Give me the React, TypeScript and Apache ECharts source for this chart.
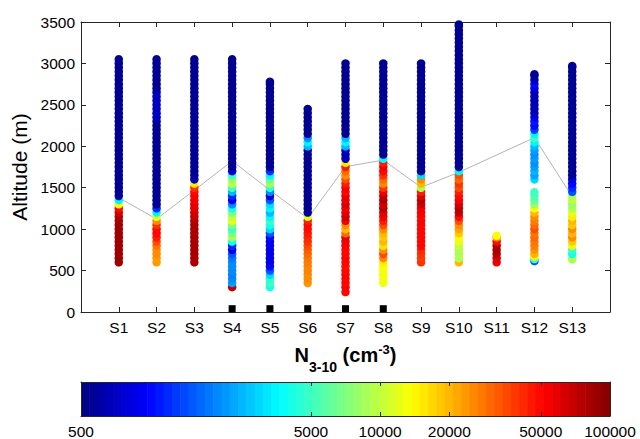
import React, { useEffect, useRef } from 'react';
import * as echarts from 'echarts';

const stations = ['S1', 'S2', 'S3', 'S4', 'S5', 'S6', 'S7', 'S8', 'S9', 'S10', 'S11', 'S12', 'S13'];

// [altitude (m), N3-10 (cm^-3)] profiles
const s1: number[][] = [
  [600, 85000], [650, 85000], [700, 85000], [750, 85000], [800, 85000], [850, 85000], [900, 85000], [950, 85000],
  [1000, 85000], [1050, 85000], [1100, 82000], [1150, 78000], [1200, 65000], [1250, 50000], [1300, 14000],
  [1350, 3500], [1400, 600], [1450, 550], [1500, 550], [1550, 550], [1600, 550], [1650, 550], [1700, 550],
  [1750, 550], [1800, 550], [1850, 550], [1900, 550], [1950, 550], [2000, 550], [2050, 550], [2100, 550],
  [2150, 550], [2200, 550], [2250, 550], [2300, 550], [2350, 550], [2400, 550], [2450, 550], [2500, 550],
  [2550, 550], [2600, 550], [2650, 550], [2700, 550], [2750, 550], [2800, 550], [2850, 550], [2900, 550],
  [2950, 550], [3000, 550], [3050, 550],
];
const s2: number[][] = [
  [600, 23000], [650, 23000], [700, 25000], [750, 25000], [800, 28000], [850, 35000], [900, 45000], [950, 50000],
  [1000, 50000], [1050, 40000], [1100, 25000], [1150, 12000], [1200, 3500], [1250, 1200], [1300, 550],
  [1350, 550], [1400, 550], [1450, 550], [1500, 550], [1550, 550], [1600, 550], [1650, 550], [1700, 550],
  [1750, 550], [1800, 550], [1850, 550], [1900, 550], [1950, 550], [2000, 550], [2050, 550], [2100, 550],
  [2150, 550], [2200, 550], [2250, 550], [2300, 550], [2350, 700], [2400, 700], [2450, 700], [2500, 700],
  [2550, 700], [2600, 700], [2650, 700], [2700, 550], [2750, 550], [2800, 550], [2850, 550], [2900, 550],
  [2950, 550], [3000, 550], [3050, 550],
];
const s3: number[][] = [
  [600, 80000], [650, 80000], [700, 80000], [750, 80000], [800, 80000], [850, 80000], [900, 80000], [950, 80000],
  [1000, 80000], [1050, 80000], [1100, 78000], [1150, 70000], [1200, 65000], [1250, 60000], [1300, 60000],
  [1350, 55000], [1400, 55000], [1450, 50000], [1500, 40000], [1550, 15000], [1600, 700], [1650, 550],
  [1700, 550], [1750, 550], [1800, 550], [1850, 550], [1900, 550], [1950, 550], [2000, 550], [2050, 550],
  [2100, 550], [2150, 550], [2200, 550], [2250, 550], [2300, 550], [2350, 550], [2400, 550], [2450, 550],
  [2500, 550], [2550, 550], [2600, 550], [2650, 550], [2700, 550], [2750, 550], [2800, 550], [2850, 550],
  [2900, 550], [2950, 550], [3000, 550], [3050, 550],
];
const s4: number[][] = [
  [300, 70000], [350, 2200], [400, 2000], [450, 1900], [500, 2000], [550, 2000], [600, 2000], [650, 1800],
  [700, 1500], [750, 900], [800, 1200], [850, 4000], [900, 9000], [950, 7000], [1000, 5000], [1050, 7000],
  [1100, 12000], [1150, 10000], [1200, 7000], [1250, 4000], [1300, 2000], [1350, 900], [1400, 1200],
  [1450, 2500], [1500, 5000], [1550, 10000], [1600, 8000], [1650, 5000], [1700, 800], [1750, 550],
  [1800, 550], [1850, 550], [1900, 550], [1950, 550], [2000, 550], [2050, 550], [2100, 550], [2150, 550],
  [2200, 550], [2250, 550], [2300, 550], [2350, 550], [2400, 550], [2450, 550], [2500, 550], [2550, 550],
  [2600, 550], [2650, 550], [2700, 550], [2750, 550], [2800, 550], [2850, 550], [2900, 550], [2950, 550],
  [3000, 550], [3050, 550],
];
const s5: number[][] = [
  [300, 4000], [350, 5000], [400, 4500], [450, 3000], [500, 1500], [550, 1000], [600, 900], [650, 850],
  [700, 900], [750, 850], [800, 900], [850, 900], [900, 1000], [950, 1500], [1000, 3000], [1050, 4000],
  [1100, 5000], [1150, 3500], [1200, 2500], [1250, 3500], [1300, 3000], [1350, 1500], [1400, 800],
  [1450, 2000], [1500, 4500], [1550, 9000], [1600, 6000], [1650, 3500], [1700, 1200], [1750, 550],
  [1800, 550], [1850, 550], [1900, 550], [1950, 550], [2000, 550], [2050, 550], [2100, 550], [2150, 550],
  [2200, 550], [2250, 550], [2300, 550], [2350, 550], [2400, 550], [2450, 550], [2500, 550], [2550, 550],
  [2600, 550], [2650, 550], [2700, 550], [2750, 550], [2780, 550],
];
const s6: number[][] = [
  [350, 24000], [400, 25000], [450, 25000], [500, 26000], [550, 26000], [600, 27000], [650, 28000],
  [700, 30000], [750, 32000], [800, 35000], [850, 40000], [900, 42000], [950, 45000], [1000, 48000],
  [1050, 50000], [1100, 45000], [1150, 12000], [1200, 600], [1250, 550], [1300, 550], [1350, 550],
  [1400, 550], [1450, 550], [1500, 550], [1550, 550], [1600, 550], [1650, 550], [1700, 550], [1750, 550],
  [1800, 550], [1850, 550], [1900, 550], [1950, 550], [2000, 2500], [2050, 3500], [2100, 2000],
  [2150, 550], [2200, 550], [2250, 550], [2300, 550], [2350, 550], [2400, 550], [2450, 550],
];
const s7: number[][] = [
  [240, 50000], [300, 52000], [350, 50000], [400, 50000], [450, 52000], [500, 50000], [550, 48000],
  [600, 50000], [650, 52000], [700, 50000], [750, 50000], [800, 52000], [850, 55000], [900, 60000],
  [950, 30000], [1000, 20000], [1050, 25000], [1100, 55000], [1150, 70000], [1200, 60000], [1250, 55000],
  [1300, 65000], [1350, 55000], [1400, 60000], [1450, 50000], [1500, 55000], [1550, 45000], [1600, 35000],
  [1650, 25000], [1700, 30000], [1750, 45000], [1800, 15000], [1850, 700], [1900, 650], [1950, 700],
  [2000, 2500], [2050, 3500], [2100, 2500], [2150, 550], [2200, 550], [2250, 550], [2300, 550], [2350, 550],
  [2400, 550], [2450, 550], [2500, 550], [2550, 550], [2600, 550], [2650, 550], [2700, 550], [2750, 550],
  [2800, 550], [2850, 550], [2900, 550], [2950, 550], [3000, 550],
];
const s8: number[][] = [
  [350, 12500], [400, 13000], [450, 13000], [500, 13000], [550, 13500], [600, 15000], [650, 25000],
  [700, 35000], [750, 25000], [800, 16000], [850, 20000], [900, 18000], [950, 20000], [1000, 25000],
  [1050, 35000], [1100, 45000], [1150, 55000], [1200, 60000], [1250, 75000], [1300, 65000], [1350, 75000],
  [1400, 70000], [1450, 55000], [1500, 40000], [1550, 25000], [1600, 30000], [1650, 40000], [1700, 50000],
  [1750, 55000], [1800, 45000], [1850, 3500], [1900, 550], [1950, 550], [2000, 550], [2050, 550],
  [2100, 550], [2150, 550], [2200, 550], [2250, 550], [2300, 550], [2350, 550], [2400, 550], [2450, 550],
  [2500, 550], [2550, 550], [2600, 550], [2650, 550], [2700, 550], [2750, 550], [2800, 550], [2850, 550],
  [2900, 550], [2950, 550], [3000, 550],
];
const s9: number[][] = [
  [600, 40000], [650, 38000], [700, 40000], [750, 42000], [800, 50000], [850, 50000], [900, 50000],
  [950, 50000], [1000, 50000], [1050, 50000], [1100, 52000], [1150, 50000], [1200, 52000], [1250, 55000],
  [1300, 65000], [1350, 75000], [1400, 60000], [1450, 45000], [1500, 9000], [1550, 20000], [1600, 25000],
  [1650, 3000], [1700, 550], [1750, 550], [1800, 550], [1850, 550], [1900, 550], [1950, 550], [2000, 550],
  [2050, 550], [2100, 550], [2150, 550], [2200, 550], [2250, 550], [2300, 550], [2350, 550], [2400, 550],
  [2450, 550], [2500, 550], [2550, 550], [2600, 550], [2650, 550], [2700, 550], [2750, 550], [2800, 550],
  [2850, 550], [2900, 550], [2950, 550], [3000, 550],
];
const s10: number[][] = [
  [600, 20000], [650, 9000], [700, 9000], [750, 9000], [800, 10000], [850, 12000], [900, 14000],
  [950, 18000], [1000, 22000], [1050, 25000], [1100, 35000], [1150, 50000], [1200, 70000], [1250, 75000],
  [1300, 65000], [1350, 55000], [1400, 50000], [1450, 45000], [1500, 35000], [1550, 40000], [1600, 30000],
  [1650, 35000], [1700, 3500], [1750, 550], [1800, 550], [1850, 550], [1900, 550], [1950, 550], [2000, 550],
  [2050, 550], [2100, 550], [2150, 550], [2200, 550], [2250, 550], [2300, 550], [2350, 550], [2400, 550],
  [2450, 550], [2500, 550], [2550, 550], [2600, 550], [2650, 550], [2700, 550], [2750, 550], [2800, 550],
  [2850, 550], [2900, 550], [2950, 550], [3000, 550], [3050, 550], [3100, 550], [3150, 550], [3200, 550],
  [3250, 550], [3300, 550], [3350, 550], [3400, 550], [3450, 550], [3470, 550],
];
const s11: number[][] = [
  [600, 55000], [650, 60000], [700, 75000], [750, 80000], [800, 80000], [850, 50000], [900, 25000], [920, 14000],
];
const s12: number[][] = [
  [615, 1500], [640, 5000], [670, 13000], [700, 20000], [750, 24000], [800, 27000], [850, 28000],
  [900, 30000], [950, 28000], [1000, 35000], [1050, 30000], [1100, 27000], [1150, 25000], [1200, 20000],
  [1250, 13000], [1300, 8000], [1350, 6000], [1400, 5500], [1445, 5000], [1600, 3000], [1650, 2200],
  [1700, 2500], [1750, 2200], [1800, 2000], [1850, 2200], [1900, 2000], [1950, 2200], [2000, 2500],
  [2050, 3500], [2100, 5000], [2150, 3500], [2200, 1300], [2250, 1000], [2300, 1100], [2350, 900],
  [2400, 700], [2450, 650], [2500, 700], [2550, 650], [2600, 650], [2650, 650], [2700, 800], [2750, 1000],
  [2800, 700], [2850, 600], [2870, 550],
];
const s13: number[][] = [
  [635, 9000], [650, 9000], [700, 4000], [750, 5000], [800, 12000], [850, 18000], [900, 25000], [950, 20000],
  [1000, 25000], [1050, 18000], [1100, 20000], [1150, 15000], [1200, 12000], [1250, 9000], [1300, 8000],
  [1350, 10000], [1400, 9000], [1450, 1500], [1500, 1200], [1550, 1000], [1600, 900], [1650, 550],
  [1700, 550], [1750, 550], [1800, 550], [1850, 550], [1900, 550], [1950, 550], [2000, 550], [2050, 550],
  [2100, 550], [2150, 550], [2200, 550], [2250, 550], [2300, 550], [2350, 550], [2400, 550], [2450, 550],
  [2500, 550], [2550, 550], [2600, 550], [2650, 550], [2700, 550], [2750, 550], [2800, 550], [2850, 550],
  [2900, 550], [2950, 550], [2970, 550],
];
const profiles = [s1, s2, s3, s4, s5, s6, s7, s8, s9, s10, s11, s12, s13];

// grey line (layer top) at each station
const lineStations = [1, 2, 3, 4, 5, 6, 7, 8, 9, 10, 12, 13];
const lineAltitude = [1380, 1122, 1470, 1822, 1470, 1130, 1754, 1834, 1505, 1686, 2104, 1392];

// black markers at the bottom
const markerStations = [4, 5, 6, 7, 8];
const markerAltitude = 40;

// colour bar
const cMin = 500;
const cMax = 100000;
const colorbarLabels = [500, 5000, 10000, 20000, 50000, 100000];
const colorbarTicks = [5000, 10000, 20000, 50000];
const jet = ['#000080', '#0000ff', '#0080ff', '#00ffff', '#80ff80', '#ffff00', '#ff8000', '#ff0000', '#800000'];
const nColors = 64;

const FONT = '"Liberation Sans", Arial, Helvetica, sans-serif';
const AX = '#262626';

export default function App() {
  const ref = useRef<HTMLDivElement>(null);
  useEffect(() => {
    if (!ref.current) return;
    const chart = echarts.init(ref.current, null, { renderer: 'svg' });
    const lmin = Math.log10(cMin);
    const lmax = Math.log10(cMax);
    const profileData: number[][] = [];
    profiles.forEach((p, i) => {
      p.forEach(([alt, c]) => profileData.push([i + 1, alt, Math.log10(c)]));
    });
    const bins: number[][] = [];
    for (let i = 0; i < nColors; i++) {
      const lo = lmin + (i * (lmax - lmin)) / nColors;
      const hi = lmin + ((i + 1) * (lmax - lmin)) / nColors;
      bins.push([lo, hi, (lo + hi) / 2]);
    }
    const tickStyle = { lineStyle: { color: AX, width: 1 } };
    const labelFont = { fontFamily: FONT, fontSize: 15.5, color: '#000' };
    chart.setOption({
      animation: false,
      backgroundColor: '#fff',
      grid: [
        { left: 81, right: 30, top: 22, height: 290 },
        { left: 81, right: 30, top: 382, height: 34 },
      ],
      visualMap: {
        type: 'continuous',
        show: false,
        min: lmin,
        max: lmax,
        dimension: 2,
        seriesIndex: [1, 3],
        inRange: { color: jet, opacity: [1, 1] },
      },
      xAxis: [
        {
          gridIndex: 0, type: 'value', min: 0, max: 14, interval: 1, position: 'bottom',
          axisLine: { show: true, onZero: false, ...tickStyle },
          axisTick: { show: true, inside: true, length: 5, ...tickStyle },
          axisLabel: {
            ...labelFont, margin: 7,
            formatter: (v: number) => (v >= 1 && v <= 13 ? stations[v - 1] : ''),
          },
          splitLine: { show: false },
          name: '{b|N}{sub|3-10}{b| (cm}{sup|-3}{b|)}',
          nameLocation: 'middle',
          nameGap: 29,
          nameTextStyle: {
            rich: {
              b: { fontFamily: FONT, fontSize: 20, fontWeight: 'bold', color: '#000', lineHeight: 22, verticalAlign: 'top', padding: [4, 0, 0, 0] },
              sub: { fontFamily: FONT, fontSize: 14, fontWeight: 'bold', color: '#000', lineHeight: 16, verticalAlign: 'top', padding: [19, 0, 0, 0] },
              sup: { fontFamily: FONT, fontSize: 13, fontWeight: 'bold', color: '#000', lineHeight: 13, verticalAlign: 'top', padding: [2, 0, 0, 0] },
            },
          },
        },
        {
          gridIndex: 0, type: 'value', min: 0, max: 14, interval: 1, position: 'top',
          axisLine: { show: true, onZero: false, ...tickStyle },
          axisTick: { show: true, inside: true, length: 5, ...tickStyle },
          axisLabel: { show: false },
          splitLine: { show: false },
        },
        {
          gridIndex: 1, type: 'value', min: lmin, max: lmax, position: 'bottom', z: 5,
          axisLine: { show: true, onZero: false, ...tickStyle },
          axisTick: { show: true, inside: true, length: 4, customValues: colorbarTicks.map((v) => Math.log10(v)), ...tickStyle },
          axisLabel: {
            ...labelFont, margin: 7,
            customValues: colorbarLabels.map((v) => Math.log10(v)),
            formatter: (v: number) => String(Math.round(Math.pow(10, v))),
          },
          splitLine: { show: false },
        },
        {
          gridIndex: 1, type: 'value', min: lmin, max: lmax, position: 'top', z: 5,
          axisLine: { show: true, onZero: false, ...tickStyle },
          axisTick: { show: true, inside: true, length: 4, customValues: colorbarTicks.map((v) => Math.log10(v)), ...tickStyle },
          axisLabel: { show: false },
          splitLine: { show: false },
        },
      ],
      yAxis: [
        {
          gridIndex: 0, type: 'value', min: 0, max: 3500, interval: 500, position: 'left',
          axisLine: { show: true, onZero: false, ...tickStyle },
          axisTick: { show: true, inside: true, length: 5, ...tickStyle },
          axisLabel: { ...labelFont, margin: 6, formatter: (v: number) => String(v) },
          splitLine: { show: false },
          name: 'Altitude (m)',
          nameLocation: 'middle',
          nameRotate: 90,
          nameGap: 49,
          nameTextStyle: { fontFamily: FONT, fontSize: 21, color: '#000' },
        },
        {
          gridIndex: 0, type: 'value', min: 0, max: 3500, interval: 500, position: 'right',
          axisLine: { show: true, onZero: false, ...tickStyle },
          axisTick: { show: true, inside: true, length: 5, ...tickStyle },
          axisLabel: { show: false },
          splitLine: { show: false },
        },
        {
          gridIndex: 1, type: 'value', min: 0, max: 1, position: 'left', z: 5,
          axisLine: { show: true, onZero: false, ...tickStyle },
          axisTick: { show: false }, axisLabel: { show: false }, splitLine: { show: false },
        },
        {
          gridIndex: 1, type: 'value', min: 0, max: 1, position: 'right', z: 5,
          axisLine: { show: true, onZero: false, ...tickStyle },
          axisTick: { show: false }, axisLabel: { show: false }, splitLine: { show: false },
        },
      ],
      series: [
        {
          type: 'line', xAxisIndex: 0, yAxisIndex: 0, z: 1,
          data: lineStations.map((s, i) => [s, lineAltitude[i]]),
          showSymbol: false, symbol: 'none',
          lineStyle: { color: '#b4b4b4', width: 1 },
          silent: true,
        },
        {
          type: 'scatter', xAxisIndex: 0, yAxisIndex: 0, z: 3,
          data: profileData,
          symbolSize: 8.5,
          itemStyle: { opacity: 1, borderWidth: 0 },
          emphasis: { disabled: true },
          silent: true,
        },
        {
          type: 'scatter', xAxisIndex: 0, yAxisIndex: 0, z: 4,
          data: markerStations.map((s) => [s, markerAltitude]),
          symbol: 'rect', symbolSize: 7,
          itemStyle: { color: '#000', opacity: 1 },
          silent: true,
        },
        {
          type: 'custom', xAxisIndex: 2, yAxisIndex: 2, z: 1,
          data: bins,
          encode: { x: [0, 1] },
          silent: true,
          renderItem: (params: any, api: any) => {
            const a = api.coord([api.value(0), 0]);
            const b = api.coord([api.value(1), 1]);
            return {
              type: 'rect',
              shape: { x: a[0], y: b[1], width: b[0] - a[0] + 0.6, height: a[1] - b[1] },
              style: { fill: api.visual('color') },
            };
          },
        },
      ],
    });
    return () => chart.dispose();
  }, []);
  return <div ref={ref} style={{ position: 'fixed', left: 0, top: 0, width: 640, height: 439 }} />;
}
